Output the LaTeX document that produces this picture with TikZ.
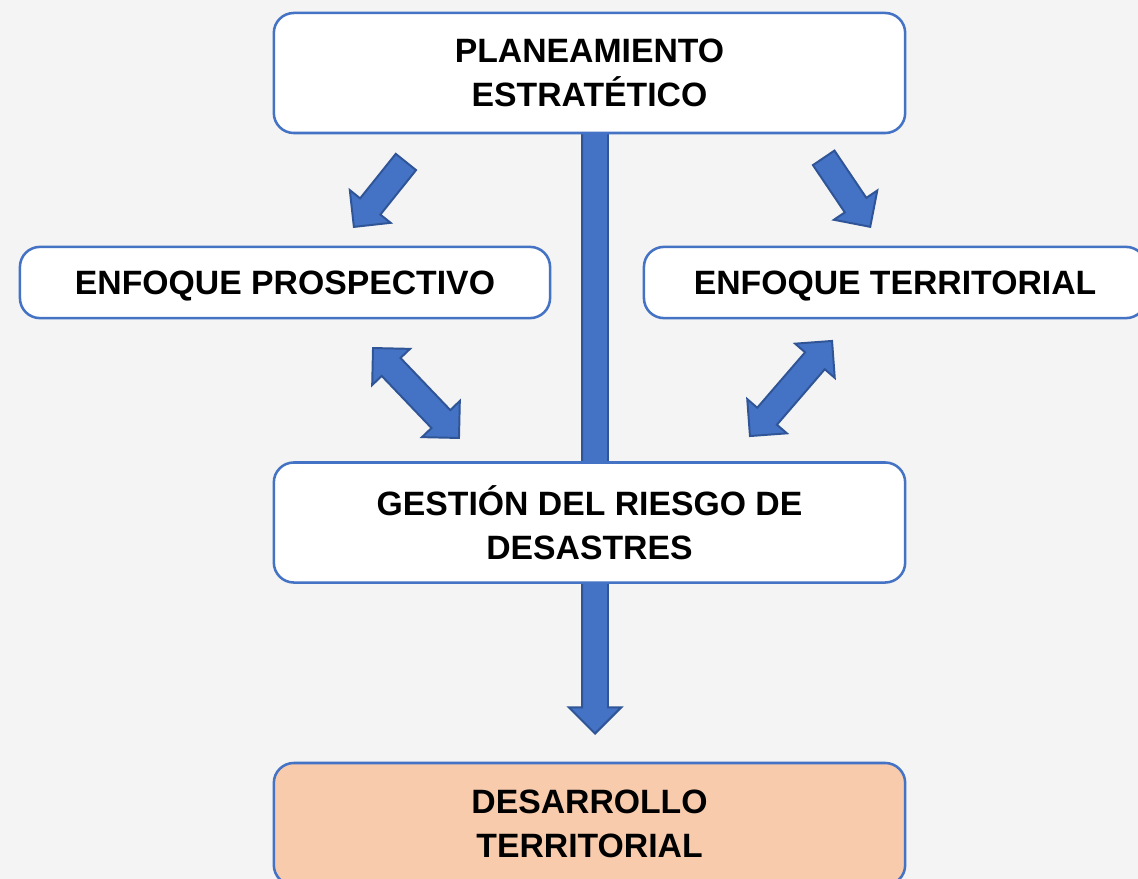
\documentclass[tikz,border=0pt]{standalone}
\usepackage{fontspec}
\setmainfont{Liberation Sans}
\usetikzlibrary{shapes.arrows}
\definecolor{boxblue}{HTML}{4472C4}
\definecolor{arrowedge}{HTML}{2F5597}
\definecolor{peach}{HTML}{F8CBAD}
\definecolor{bggray}{HTML}{F4F4F4}
\tikzset{>=stealth}
\tikzset{
  box/.style={draw=boxblue, line width=1.8pt, rounded corners=0.5cm, fill=white,
    align=center, inner sep=0pt, font=\fontsize{24}{31}\selectfont\bfseries},
  blockarrow/.style={single arrow, draw=arrowedge, fill=boxblue, line width=1.4pt,
    inner xsep=0pt, inner ysep=0.3cm, single arrow head extend=0.33cm},
  dblarrow/.style={double arrow, draw=arrowedge, fill=boxblue, line width=1.4pt,
    inner xsep=0pt, inner ysep=0.3cm, double arrow head extend=0.33cm}
}

\begin{document}
\begin{tikzpicture}[x=0.025cm, y=-0.025cm]

\fill[bggray] (0,0) rectangle (1138,879);
\useasboundingbox (0,0) rectangle (1138,879);

% arrow tips
\coordinate (tipL) at (353,228);
\coordinate (tipR) at (871,228);
\coordinate (tipD) at (595,735);

% block arrows (drawn first, boxes go on top)
\node[blockarrow, minimum height=15.05cm, rotate=-90, anchor=tip] (down) at (tipD) {};
\node[blockarrow, minimum height=2.08cm, rotate=-128.7, anchor=tip] (toprosp) at (tipL) {};
\node[blockarrow, minimum height=2.08cm, rotate=-56, anchor=tip] (toterr) at (tipR) {};
\node[dblarrow, minimum height=3.11cm, rotate=-46.3] (prospgrd) at (416,393) {};%both ways
\node[dblarrow, minimum height=3.14cm, rotate=49.2] (terrgrd) at (791,388.5) {};%both ways

% boxes
\node[box, minimum width=15.78cm, minimum height=3cm] (plan) at (589.5,73) {PLANEAMIENTO\\ESTRATÉTICO};
\node[box, text depth=0pt, minimum width=13.25cm, minimum height=1.78cm] (prosp) at (285,282.5) {ENFOQUE PROSPECTIVO};
\node[box, text depth=0pt, minimum width=12.55cm, minimum height=1.78cm] (terr) at (895,282.5) {ENFOQUE TERRITORIAL};
\node[box, minimum width=15.78cm, minimum height=3cm] (grd) at (589.5,522.5) {GESTIÓN DEL RIESGO DE\\DESASTRES};
\node[box, fill=peach, minimum width=15.78cm, minimum height=3.05cm] (desa) at (589.5,824) {DESARROLLO\\TERRITORIAL};

\end{tikzpicture}
\end{document}
